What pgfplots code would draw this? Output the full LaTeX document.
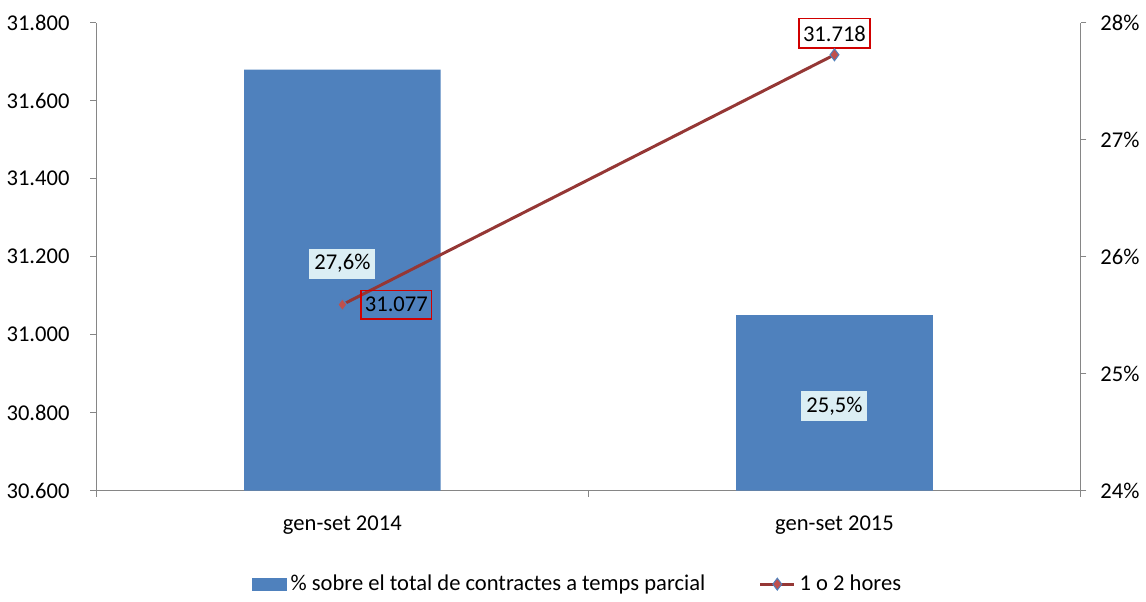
\documentclass[border=0pt]{standalone}
\usepackage{pgfplots}
\usepackage{pgfplotstable}
\pgfplotsset{compat=1.18}
\usepackage{fontspec}
\setmainfont{Carlito}

\definecolor{barblue}{HTML}{4F81BD}
\definecolor{linered}{HTML}{953735}
\definecolor{markred}{HTML}{C0504D}
\definecolor{axgray}{HTML}{868686}
\definecolor{lblfill}{HTML}{DBEEF4}
\definecolor{boxred}{HTML}{D00000}

\pgfplotstableread{
x pct
0 27.6
1 25.5
}\bardata

\pgfplotstableread{
x val
0 31077
1 31718
}\linedata

\begin{document}
\begin{tikzpicture}[font=\fontsize{11.4}{13.5}\selectfont]
\pgfplotsset{
  every axis/.append style={
    scale only axis,
    width=495.5bp, height=235.5bp,
    xmin=-0.5, xmax=1.5,
    axis line style={axgray, line width=0.6bp},
    tick style={axgray, line width=0.6bp},
    tick align=outside,
    major tick length=3bp,
    /pgf/number format/assume math mode=true,
    yticklabel style={font=\fontsize{11.4}{13.5}\selectfont},
  }
}

% barres: eix dret (%)
\begin{axis}[
  axis y line*=right,
  axis x line*=bottom,
  ymin=24, ymax=28,
  ytick={24,25,26,27,28},
  yticklabel={\pgfmathprintnumber{\tick}\%},
  yticklabel style={xshift=3.5bp},
  xtick={-0.5,0.5,1.5},
  xticklabels={},
  extra x ticks={0,1},
  extra x tick labels={gen-set 2014,gen-set 2015},
  extra x tick style={major tick length=0pt},
  xticklabel style={yshift=-9bp},
]
\addplot[ybar, bar width=99bp, bar shift=0pt, fill=barblue, draw=none]
  table[x=x, y=pct] {\bardata};
\node[fill=lblfill, inner xsep=2.5bp, inner ysep=3bp] at (axis cs:0,25.94) {27,6\%};
\node[fill=lblfill, inner xsep=2.5bp, inner ysep=3bp] at (axis cs:1,24.72) {25,5\%};
\coordinate (ptop) at (rel axis cs:0,1);
\coordinate (pbot) at (rel axis cs:0,0);
\end{axis}

% línia: eix esquerre
\begin{axis}[
  axis y line*=left,
  axis x line=none,
  clip=false,
  ymin=30600, ymax=31800,
  ytick={30600,30800,...,31800},
  scaled y ticks=false,
  /pgf/number format/fixed,
  /pgf/number format/precision=0,
  /pgf/number format/1000 sep={.},
  yticklabel style={xshift=-7bp},
  legend style={at={(0.49,-0.2)}, anchor=center, draw=none, fill=none,
    legend columns=2, font=\fontsize{11.4}{13.5}\selectfont,
    /tikz/every even column/.append style={column sep=25bp}},
  legend cell align=left,
]
\addlegendimage{legend image code/.code={\fill[barblue] (0bp,-3bp) rectangle (17bp,3bp);}}
\addlegendentry{\% sobre el total de contractes a temps parcial}
\addplot[linered, line width=1.5bp, mark=diamond*, mark size=3bp,
  mark options={fill=markred, draw=barblue, line width=0.5bp}]
  table[x=x, y=val] {\linedata};
\addlegendentry{1 o 2 hores}
\node[draw=boxred, line width=0.7bp, inner xsep=2bp, inner ysep=3.5bp, anchor=west]
  at (axis cs:0,31077) [xshift=9bp] {31.077};
\node[draw=boxred, fill=white, line width=0.7bp, inner xsep=2bp, inner ysep=3.5bp, anchor=south]
  at (axis cs:1,31718) [yshift=3bp] {31.718};
\end{axis}
% marge de la pàgina
\path (ptop) ++(0,11.5bp) coordinate (a) (pbot) ++(0,-51.5bp) coordinate (b);
\path (a) -- (b);
\end{tikzpicture}
\end{document}
